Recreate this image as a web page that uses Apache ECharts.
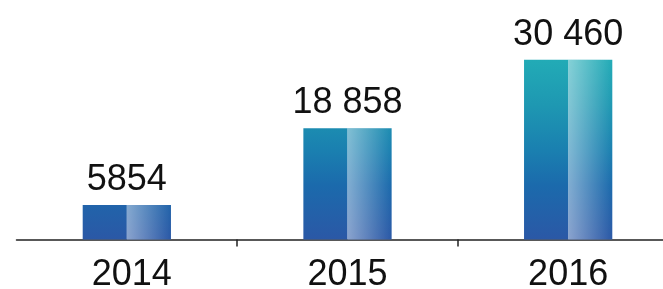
<!DOCTYPE html>
<html>
<head>
<meta charset="utf-8">
<script src="https://cdn.jsdelivr.net/npm/echarts@6/dist/echarts.min.js"></script>
<style>
  html, body { margin: 0; padding: 0; background: #fff; }
  #chart { width: 663px; height: 289px; }
</style>
</head>
<body>
<div id="chart"></div>
<script>
// categories and values
var years = ['2014', '2015', '2016']
var amounts = [5854, 18858, 30460]
var yMax = 40000

// thousands with a space, as in the original ("18 858"), 4-digit numbers kept plain
function fmt(v) {
  var s = String(v)
  if (s.length <= 4) return s
  return s.replace(/\B(?=(\d{3})+(?!\d))/g, ' ')
}

var fontFamily = '"Liberation Sans", Arial, Helvetica, sans-serif'
var font = '36px ' + fontFamily

var chart = echarts.init(document.getElementById('chart'))

chart.setOption({
  animation: false,
  grid: {
    left: 16.5,
    width: 662,
    top: 3.5,
    bottom: 49.5,
    containLabel: false,
    outerBoundsMode: 'none'
  },
  xAxis: {
    type: 'category',
    // the first label sits a little right of its bar in the original
    data: years.map(function (y, i) {
      return i === 0 ? { value: y, textStyle: { padding: [0, 0, 0, 10] } } : y
    }),
    axisLine: { lineStyle: { color: '#222', width: 1.5 } },
    axisTick: {
      show: true,
      length: 7,
      // no tick at the very left end
      interval: function (i) { return i !== 0 },
      lineStyle: { color: '#222', width: 1.5 }
    },
    axisLabel: {
      margin: 18,
      color: '#111',
      fontSize: 36,
      fontFamily: fontFamily
    }
  },
  yAxis: {
    type: 'value',
    min: 0,
    max: yMax,
    show: false
  },
  series: [{
    type: 'custom',
    data: amounts.map(function (v, i) { return [i, v] }),
    renderItem: function (params, api) {
      var idx = api.value(0)
      var val = api.value(1)
      var top = api.coord([idx, val])
      var base = api.coord([idx, 0])
      // gradient runs from the axis to the tallest bar, the same for every bar
      var gTop = api.coord([idx, Math.max.apply(null, amounts)])[1]
      var bw = api.size([1, 0])[0] * 0.4
      var x0 = top[0] - bw / 2
      var h = base[1] - top[1]
      var vGrad = new echarts.graphic.LinearGradient(0, base[1], 0, gTop, [
        { offset: 0, color: '#2b58a6' },
        { offset: 0.3, color: '#1b6aac' },
        { offset: 0.5, color: '#1a80b0' },
        { offset: 0.75, color: '#1e98b2' },
        { offset: 1, color: '#22abb6' }
      ], true)
      var shine = new echarts.graphic.LinearGradient(0, 0, 1, 0, [
        { offset: 0, color: 'rgba(255,255,255,0.45)' },
        { offset: 1, color: 'rgba(255,255,255,0)' }
      ])
      return {
        type: 'group',
        children: [
          { type: 'rect', shape: { x: x0, y: top[1], width: bw / 2, height: h }, style: { fill: vGrad } },
          { type: 'rect', shape: { x: x0 + bw / 2, y: top[1], width: bw / 2, height: h }, style: { fill: vGrad } },
          { type: 'rect', shape: { x: x0 + bw / 2, y: top[1], width: bw / 2, height: h }, style: { fill: shine } },
          {
            type: 'text',
            style: {
              text: fmt(val),
              x: top[0],
              y: top[1] - 7,
              align: 'center',
              verticalAlign: 'bottom',
              font: font,
              fill: '#111'
            }
          }
        ]
      }
    }
  }]
})
</script>
</body>
</html>
